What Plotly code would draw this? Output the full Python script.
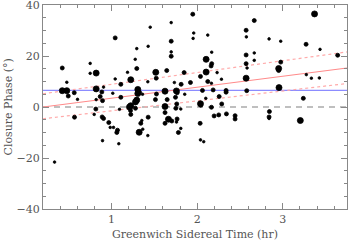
import plotly.graph_objects as go

# Greenwich sidereal time (hr), closure phase (deg), point weight class (1 small, 2 medium, 3 large)
gst = [1.043, 1.295, 1.277, 0.425, 0.751, 1.295, 0.751, 0.821, 1.043, 1.187, 1.225,
       1.949, 1.697, 1.452, 1.960, 1.953, 2.124, 1.697, 2.572, 2.575, 1.428, 1.697,
       1.697, 2.170, 2.105, 2.170, 2.163, 2.572, 2.572, 1.517, 1.645, 1.848, 2.105,
       2.233, 2.039, 1.522, 2.284, 2.572, 3.371, 2.667, 2.840, 2.976, 3.272, 3.435,
       2.667, 2.667, 2.976, 3.641, 2.583, 2.952, 2.952, 3.275, 3.334, 3.427, 0.478,
       0.425, 0.478, 0.565, 0.495, 0.603, 0.821, 0.887, 0.907, 0.868, 0.895, 0.821,
       1.015, 1.109, 1.109, 1.307, 1.307, 1.327, 1.362, 1.295, 1.280, 1.225, 1.210,
       1.222, 1.225, 1.093, 0.817, 0.798, 0.568, 0.891, 0.907, 0.968, 1.023, 0.985,
       1.070, 1.062, 1.342, 1.354, 1.323, 1.365, 0.895, 1.085, 1.734, 1.813, 1.922,
       2.124, 2.167, 1.525, 1.625, 1.758, 1.767, 1.855, 1.747, 1.513, 1.650, 2.062,
       2.187, 2.338, 2.338, 2.257, 2.101, 2.287, 2.039, 2.042, 2.167, 1.625, 1.762,
       1.751, 1.809, 1.428, 1.625, 1.665, 1.625, 1.704, 1.766, 1.759, 2.198, 2.252,
       2.342, 2.443, 2.443, 2.035, 1.809, 1.781, 1.424, 2.039, 2.077, 2.956, 2.579,
       3.240, 2.844, 2.840, 2.840, 3.205, 0.335, 1.424, 1.280]
phase = [27.1, 22.9, 18.7, 15.3, 17.1, 15.1, 13.2, 13.3, 11.0, 13.6, 10.7,
         36.4, 33.1, 31.3, 29.0, 26.9, 28.2, 25.8, 30.1, 27.5, 23.8, 21.6,
         19.9, 21.5, 18.7, 17.0, 16.1, 20.4, 17.0, 13.6, 14.3, 13.5, 13.7,
         13.5, 12.0, 11.3, 10.9, 11.3, 36.5, 33.9, 26.7, 25.8, 24.6, 22.6,
         21.2, 18.3, 17.6, 20.3, 15.3, 15.1, 14.3, 12.7, 11.3, 11.4, 9.7,
         6.4, 6.4, 5.6, 4.3, 3.0, 7.1, 5.9, 7.8, 4.1, 2.5, 2.9,
         5.4, 8.9, 3.8, 6.9, 5.3, 5.8, 5.0, 2.7, 2.0, 0.5, 0.0,
         -1.4, -2.9, -0.9, -0.8, -2.9, -4.0, -3.9, -4.5, -6.1, -8.0, -8.0,
         -9.1, -10.0, -6.4, -5.3, -9.9, -8.7, -13.2, -14.4, 9.6, 8.9, 9.6,
         10.0, 9.3, 5.1, 6.2, 6.3, 5.6, 5.0, 3.8, 2.9, 2.9, 6.5,
         6.7, 6.5, 5.8, 4.1, 3.4, 1.2, 1.3, 0.7, -0.1, 0.2, 1.2,
         -0.5, -0.8, -4.0, -2.2, -4.8, -6.4, -5.5, -4.7, -5.9, -3.5, -3.1,
         -2.7, -3.4, -4.7, -6.4, -8.4, -10.0, -11.2, -12.9, -13.6, 7.6, 6.4,
         3.4, -1.8, -3.9, -4.5, -5.3, -21.6, 9.9, -0.5]
weight = [2, 1, 1, 2, 1, 2, 1, 3, 1, 1, 3,
          2, 1, 1, 1, 1, 1, 2, 2, 1, 1, 1,
          2, 1, 3, 2, 2, 2, 2, 3, 2, 2, 3,
          1, 2, 2, 1, 3, 3, 2, 1, 1, 2, 1,
          1, 1, 2, 2, 1, 3, 2, 1, 1, 1, 1,
          3, 3, 2, 2, 1, 3, 2, 1, 2, 2, 1,
          1, 2, 2, 3, 3, 2, 1, 3, 3, 3, 3,
          2, 2, 1, 2, 1, 2, 2, 2, 2, 1, 1,
          2, 2, 2, 1, 3, 1, 1, 1, 1, 2, 2,
          2, 1, 2, 3, 3, 2, 1, 2, 2, 2, 2,
          2, 2, 2, 2, 1, 2, 3, 2, 2, 3, 2,
          2, 1, 2, 2, 3, 2, 2, 2, 1, 2, 2,
          2, 2, 2, 2, 1, 2, 1, 1, 1, 3, 2,
          2, 2, 2, 1, 3, 1, 1, 2]

# Fitted models
fit_x = [0.2, 3.75]
fit_mid = [0.0, 15.3]
fit_hi = [5.2, 21.6]
fit_lo = [-4.6, 9.2]
mean_phase = 6.5
zero_level = 0.0

x_title = "Greenwich Sidereal Time (hr)"
y_title = "Closure Phase (°)"
y_tickvals = [-40, -20, 0, 20, 40]
y_ticktext = ["\u221240", "\u221220", "0", "20", "40"]

size_map = {1: 2.6, 2: 4.0, 3: 6.0}
sizes = [size_map[w] for w in weight]

fig = go.Figure()
fig.add_trace(go.Scatter(x=fit_x, y=[zero_level, zero_level], mode="lines",
                         line=dict(color="#aaaaaa", width=1.5, dash="6px,5px"), hoverinfo="skip"))
fig.add_trace(go.Scatter(x=fit_x, y=[mean_phase, mean_phase], mode="lines",
                         line=dict(color="#8c8cff", width=1.2), hoverinfo="skip"))
fig.add_trace(go.Scatter(x=fit_x, y=fit_mid, mode="lines",
                         line=dict(color="#ff8a8a", width=1.2), hoverinfo="skip"))
fig.add_trace(go.Scatter(x=fit_x, y=fit_hi, mode="lines",
                         line=dict(color="#ffaaaa", width=1.2, dash="dot"), hoverinfo="skip"))
fig.add_trace(go.Scatter(x=fit_x, y=fit_lo, mode="lines",
                         line=dict(color="#ffaaaa", width=1.2, dash="dot"), hoverinfo="skip"))
fig.add_trace(go.Scatter(x=gst, y=phase, mode="markers",
                         marker=dict(color="black", size=sizes, opacity=1,
                                     line=dict(width=0.8, color="black"))))

font = dict(family="DejaVu Serif", size=11, color="#555555")
axis_common = dict(showgrid=False, zeroline=False, showline=True, linecolor="#888888",
                   linewidth=1, mirror="allticks", ticks="inside", ticklen=6,
                   tickcolor="#888888", tickwidth=1, automargin=False, tickfont=font,
                   ticklabeloverflow="allow")

fig.update_xaxes(range=[0.2, 3.75], tick0=0, dtick=1,
                 minor=dict(ticks="inside", ticklen=3, dtick=0.2, tick0=0, tickcolor="#888888"),
                 **axis_common)
fig.update_yaxes(range=[-40, 40], tickmode="array", tickvals=y_tickvals, ticktext=y_ticktext,
                 minor=dict(ticks="inside", ticklen=3, dtick=5, tick0=0, tickcolor="#888888"),
                 **axis_common)

fig.add_annotation(text=x_title, xref="paper", yref="paper", x=0.5, y=0, yshift=-17,
                   xanchor="center", yanchor="top", showarrow=False, font=font)
fig.add_annotation(text=y_title, xref="paper", yref="paper", x=0, y=0.5, xshift=-27,
                   xanchor="right", yanchor="middle", textangle=-90, showarrow=False, font=font)

fig.update_layout(width=350, height=242, margin=dict(l=43, r=3, t=5, b=33),
                  paper_bgcolor="white", plot_bgcolor="white", showlegend=False)

fig.write_html("out.html", config={"displayModeBar": False},
               post_script="document.body.style.margin='0';document.body.style.overflow='hidden';")
